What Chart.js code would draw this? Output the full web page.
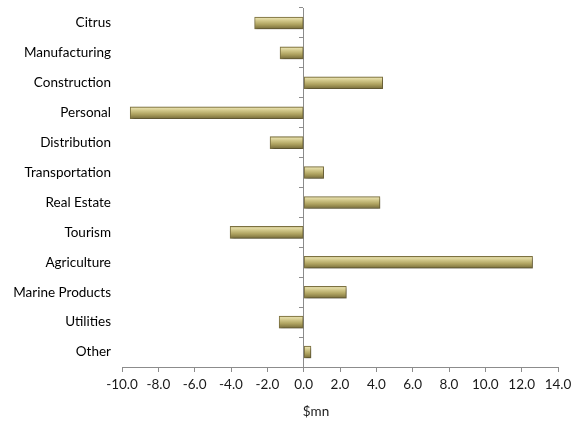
<!DOCTYPE html>
<html>
<head>
<meta charset="utf-8">
<script src="https://cdn.jsdelivr.net/npm/chart.js@4/dist/chart.umd.min.js"></script>
<style>
  html, body { margin: 0; padding: 0; background: #ffffff; }
  #wrap { width: 577px; height: 423px; position: relative; }
</style>
</head>
<body>
<div id="wrap"><canvas id="chart"></canvas></div>
<script>
// Change by sector, $mn
const sectors = [
  'Citrus', 'Manufacturing', 'Construction', 'Personal', 'Distribution',
  'Transportation', 'Real Estate', 'Tourism', 'Agriculture',
  'Marine Products', 'Utilities', 'Other'
];
const changeMn = [-2.7, -1.3, 4.35, -9.55, -1.85, 1.1, 4.2, -4.05, 12.6, 2.35, -1.35, 0.4];
const xMin = -10;
const xMax = 14;
const xStep = 2;
const unitLabel = '$mn';

const FONT = 'Lato, "Open Sans", sans-serif';
const BAR_THICKNESS = 12;

// Vertical bevel gradient for one bar, built around its category centre
function barFill(context) {
  const chart = context.chart;
  const yScale = chart.scales.y;
  if (!yScale || context.dataIndex === undefined) return '#b3a865';
  const yc = yScale.getPixelForValue(context.dataIndex);
  if (!Number.isFinite(yc)) return '#b3a865';
  const top = yc - BAR_THICKNESS / 2;
  const g = chart.ctx.createLinearGradient(0, top, 0, top + BAR_THICKNESS);
  g.addColorStop(0.0, '#a39859');
  g.addColorStop(0.12, '#e4dca8');
  g.addColorStop(0.32, '#d0c688');
  g.addColorStop(0.62, '#afa360');
  g.addColorStop(1.0, '#786d3b');
  return g;
}

// Soft drop shadow under the bars
const barShadow = {
  id: 'barShadow',
  beforeDatasetsDraw(chart) {
    const ctx = chart.ctx;
    ctx.save();
    ctx.shadowColor = 'rgba(0,0,0,0.35)';
    ctx.shadowBlur = 3;
    ctx.shadowOffsetX = 1;
    ctx.shadowOffsetY = 2;
  },
  afterDatasetsDraw(chart) {
    chart.ctx.restore();
  }
};

// Unit caption under the value axis
const unitCaption = {
  id: 'unitCaption',
  afterDraw(chart) {
    const ctx = chart.ctx;
    const area = chart.chartArea;
    ctx.save();
    ctx.font = '13.5px ' + FONT;
    ctx.fillStyle = '#1a1a1a';
    ctx.textAlign = 'center';
    ctx.textBaseline = 'middle';
    ctx.fillText(unitLabel, area.left + (area.right - area.left) * 0.445, 412);
    ctx.restore();
  }
};

new Chart(document.getElementById('chart'), {
  type: 'bar',
  data: {
    labels: sectors,
    datasets: [{
      data: changeMn,
      xAxisID: 'x',
      yAxisID: 'y',
      backgroundColor: barFill,
      borderColor: '#7d7241',
      borderWidth: 1,
      borderSkipped: false,
      barThickness: BAR_THICKNESS
    }]
  },
  options: {
    indexAxis: 'y',
    responsive: true,
    maintainAspectRatio: false,
    animation: false,
    devicePixelRatio: 1,
    layout: { padding: { left: 10, right: 19, top: 8, bottom: 0 } },
    plugins: {
      legend: { display: false },
      tooltip: { enabled: false },
      title: { display: false }
    },
    scales: {
      x: {
        type: 'linear',
        position: 'bottom',
        min: xMin,
        max: xMax,
        ticks: {
          stepSize: xStep,
          color: '#1a1a1a',
          font: { family: FONT, size: 13.5 },
          padding: 5,
          maxRotation: 0,
          minRotation: 0,
          autoSkip: false,
          callback: (v) => Number(v).toFixed(1)
        },
        grid: {
          drawOnChartArea: false,
          drawTicks: true,
          tickLength: 5,
          color: '#8c8c8c'
        },
        border: { display: true, color: '#8c8c8c', width: 1 },
        afterFit(scale) { scale.height = 56; }
      },
      y: {
        type: 'category',
        position: 'left',
        offset: true,
        ticks: {
          color: '#000000',
          font: { family: FONT, size: 13.5 },
          padding: 11
        },
        grid: { display: false, drawTicks: false },
        border: { display: false },
        afterFit(scale) {
          scale.width = 112;
          scale.paddingTop = 0;
          scale.paddingBottom = 0;
        }
      },
      // Category axis line drawn through zero on the value scale
      yZero: {
        type: 'category',
        axis: 'y',
        labels: sectors,
        position: { x: 0 },
        offset: true,
        ticks: { display: false },
        grid: {
          offset: true,
          drawOnChartArea: false,
          drawTicks: true,
          tickLength: 4,
          color: '#8c8c8c'
        },
        border: { display: true, color: '#8c8c8c', width: 1 },
        afterFit(scale) {
          scale.paddingTop = 0;
          scale.paddingBottom = 0;
        }
      }
    }
  },
  plugins: [barShadow, unitCaption]
});
</script>
</body>
</html>
